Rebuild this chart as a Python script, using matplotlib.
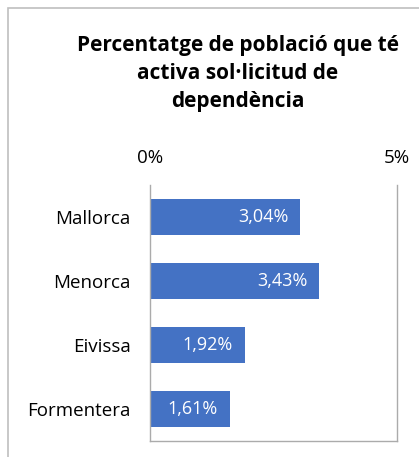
import matplotlib.pyplot as plt
from matplotlib.patches import Rectangle

# Data
islands = ["Mallorca", "Menorca", "Eivissa", "Formentera"]
percentages = [3.04, 3.43, 1.92, 1.61]
tick_values = [0, 5]
tick_labels = ["0%", "5%"]

plt.rcParams['font.family'] = ['Open Sans', 'DejaVu Sans']

fig = plt.figure(figsize=(4.19, 4.57), dpi=100)
ax = fig.add_axes([150 / 419, 16 / 457, 247 / 419, 256 / 457])

bars = ax.barh(islands, percentages, height=0.56, color="#4472C4")

for bar, val in zip(bars, percentages):
    label = f"{val:.2f}%".replace(".", ",")
    ax.text(bar.get_width() - 0.24, bar.get_y() + bar.get_height() / 2, label,
            ha='right', va='center', color='white', fontsize=13)

ax.set_xlim(0, 5)
ax.set_ylim(3.5, -0.5)
ax.xaxis.tick_top()
ax.set_xticks(tick_values)
ax.set_xticklabels(tick_labels, fontsize=13.5)
ax.tick_params(axis='x', length=0, pad=13)
ax.tick_params(axis='y', length=0, pad=14, labelsize=13.5)

ax.spines['top'].set_visible(False)
for side in ['left', 'right', 'bottom']:
    ax.spines[side].set_color('#ABABAB')
    ax.spines[side].set_linewidth(1.0)

fig.text(238 / 419, 1 - 35 / 457, "Percentatge de població que té\nactiva sol·licitud de\ndependència",
         ha='center', va='top', fontsize=15, fontweight='bold', linespacing=1.43)

# outer chart border (extends beyond the visible image)
fig.patches.append(Rectangle((8 / 419, -0.1), 1.2, 1 - 8 / 457 + 0.1, transform=fig.transFigure,
                             fill=False, edgecolor='#BFBFBF', linewidth=1.2))

fig.savefig("out.png", dpi=100)
